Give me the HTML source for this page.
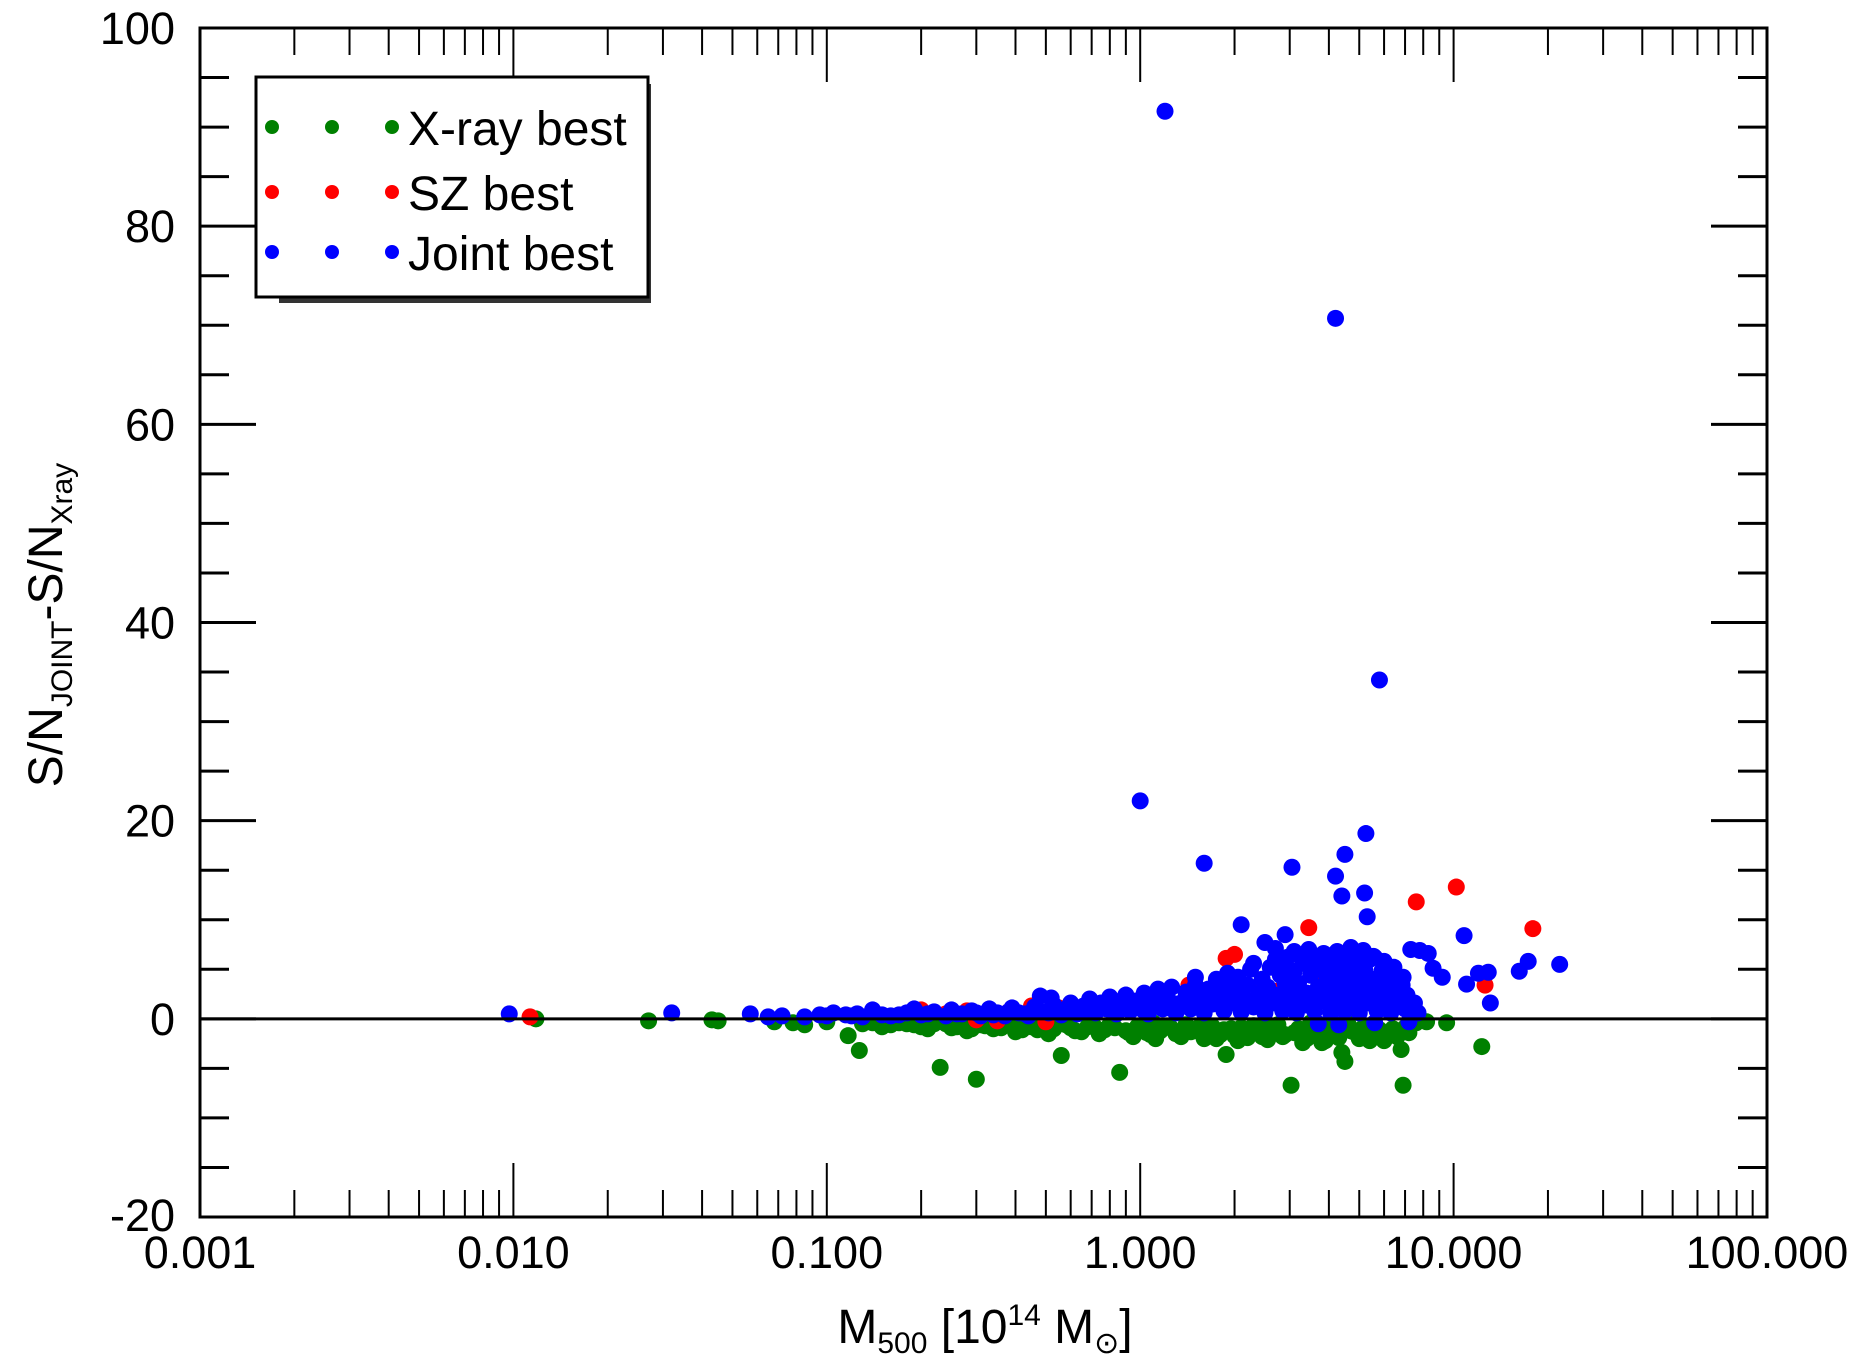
<!DOCTYPE html>
<html><head><meta charset="utf-8"><style>
html,body{margin:0;padding:0;background:#fff;}
svg{display:block;font-family:"Liberation Sans",Arial,sans-serif;}
</style></head><body>
<svg id="chart" width="1864" height="1362" viewBox="0 0 1864 1362" xmlns="http://www.w3.org/2000/svg">
<g id="ticks"></g>
<g id="pts"></g>
<line id="zero" stroke="#000" stroke-width="3"/>
<rect x="200" y="28" width="1567" height="1189" fill="none" stroke="#000" stroke-width="3"/>
<g id="labels" font-size="45" fill="#000"></g>
<text transform="translate(62,625) rotate(-90)" text-anchor="middle" font-size="48">S/N<tspan font-size="30" dy="10">JOINT</tspan><tspan dy="-10">-S/N</tspan><tspan font-size="30" dy="10">Xray</tspan></text>
<text x="985" y="1343" text-anchor="middle" font-size="48">M<tspan font-size="30" dy="10">500</tspan><tspan dy="-10"> [10</tspan><tspan font-size="30" dy="-18">14</tspan><tspan dy="18"> M</tspan><tspan font-size="30" dy="10">⊙</tspan><tspan dy="-10">]</tspan></text>
<g>
<rect x="279" y="84" width="372" height="219" fill="#333"/>
<rect x="256" y="77" width="392" height="220" fill="#fff" stroke="#000" stroke-width="3"/>
<g><circle cx="272" cy="127" r="7" fill="#008000"/><circle cx="332" cy="127" r="7" fill="#008000"/><circle cx="392" cy="127" r="7" fill="#008000"/><text x="408" y="145" font-size="48">X-ray best</text></g>
<g><circle cx="272" cy="192" r="7" fill="#ff0000"/><circle cx="332" cy="192" r="7" fill="#ff0000"/><circle cx="392" cy="192" r="7" fill="#ff0000"/><text x="408" y="210" font-size="48">SZ best</text></g>
<g><circle cx="272" cy="252" r="7" fill="#0000ff"/><circle cx="332" cy="252" r="7" fill="#0000ff"/><circle cx="392" cy="252" r="7" fill="#0000ff"/><text x="408" y="270" font-size="48">Joint best</text></g>
</g>
</svg>
<script>
const xTickLabels=["0.001","0.010","0.100","1.000","10.000","100.000"];
const yTickValues=[-20,0,20,40,60,80,100];
const greenM=[0.0118,0.027,0.043,0.045,0.068,0.078,0.085,0.1,0.117,0.127,0.13,0.15,0.17,0.19,0.21,0.23,0.24,0.26,0.28,0.30,0.31,0.34,0.37,0.40,0.43,0.47,0.51,0.56,0.58,0.62,0.68,0.74,0.8,0.86,0.9,0.95,1.0,1.05,1.12,1.2,1.3,1.4,1.5,1.6,1.7,1.8,1.88,1.95,2.05,2.15,2.3,2.45,2.6,2.75,2.9,3.03,3.2,3.4,3.6,3.8,4.0,4.2,4.4,4.5,4.7,5.0,5.3,5.6,6.0,6.4,6.8,6.9,7.2,7.6,8.2,9.5,12.3,1.1,2.5,3.5,4.6,0.7,
0.14,0.16,0.18,0.2,0.22,0.25,0.27,0.29,0.32,0.36,0.39,0.42,0.45,0.49,0.53,0.6,0.65,0.71,0.77,0.83,0.92,0.98,1.08,1.16,1.25,1.35,1.45,1.55,1.65,1.75,1.85,2.0,2.1,2.2,2.4,2.55,2.7,2.85,3.1,3.3,3.5,3.7,3.9,4.1,4.3,4.8,5.1,5.4,5.8,6.2,6.6,7.0];
const greenV=[0.0,-0.2,-0.1,-0.2,-0.3,-0.4,-0.6,-0.3,-1.7,-3.2,-0.5,-0.8,-0.4,-0.6,-1.0,-4.9,-0.5,-0.8,-1.2,-6.1,-0.6,-1.0,-0.5,-1.3,-0.7,-1.1,-1.5,-3.7,-0.6,-1.2,-0.8,-1.5,-0.6,-5.4,-1.2,-1.8,-0.7,-1.4,-2.0,-0.8,-1.5,-0.6,-1.2,-2.0,-0.8,-1.6,-3.6,-1.0,-2.2,-1.4,-0.7,-1.8,-1.1,-0.6,-1.6,-6.7,-1.0,-2.0,-1.2,-2.4,-0.8,-1.6,-3.4,-4.3,-1.2,-2.0,-0.8,-1.6,-2.2,-1.0,-3.1,-6.7,-1.4,-0.4,-0.3,-0.4,-2.8,-0.4,-0.5,-0.4,-0.5,-0.3,
-0.4,-0.6,-0.5,-0.8,-0.5,-0.9,-0.6,-1.0,-0.7,-0.9,-0.6,-1.1,-0.8,-0.6,-1.0,-0.9,-1.3,-0.7,-1.1,-0.9,-1.4,-0.8,-1.6,-1.2,-0.9,-1.8,-1.3,-0.8,-1.5,-2.0,-1.1,-1.7,-0.9,-1.9,-1.3,-2.1,-1.0,-1.8,-1.4,-2.4,-1.0,-1.7,-2.2,-1.2,-1.9,-1.3,-1.0,-2.2,-1.1,-1.5,-1.8,-0.9];
const redM=[0.0113,0.2,0.24,0.28,0.33,0.38,0.45,0.55,0.62,0.7,0.8,0.9,1.0,1.2,1.43,1.7,1.88,2.0,2.4,2.75,3.45,3.8,7.6,10.2,12.6,17.9,7.2,0.35,0.5,0.3];
const redV=[0.2,0.9,0.5,0.8,0.9,0.7,1.3,1.1,1.0,1.6,1.7,1.4,1.9,2.0,3.4,2.5,6.1,6.5,3.2,2.8,9.2,4.0,11.8,13.3,3.4,9.1,0.9,-0.2,-0.3,-0.1];
const blueM=[0.0097,0.032,0.057,0.065,0.072,0.085,0.095,0.10,0.105,0.115,0.125,0.13,0.14,0.15,0.16,0.18,0.19,0.20,0.22,0.24,0.25,0.27,0.29,0.31,0.33,0.35,0.37,0.39,0.41,0.44,0.46,0.48,0.50,0.52,0.53,0.56,0.58,0.60,0.63,0.66,0.69,0.72,0.75,0.78,0.80,0.84,0.87,0.90,0.93,0.97,1.0,1.03,1.06,1.1,1.14,1.18,1.22,1.26,1.3,1.35,1.4,1.45,1.5,1.55,1.6,1.65,1.7,1.75,1.8,1.85,1.9,1.95,2.0,2.05,2.1,2.15,2.2,2.25,2.3,2.4,2.45,2.5,2.55,2.6,2.65,2.7,2.8,2.85,2.9,2.95,3.0,3.05,3.1,3.15,3.2,3.3,3.35,3.4,3.5,3.55,3.6,3.7,3.75,3.8,3.9,3.95,4.0,4.05,4.1,4.2,4.25,4.3,4.4,4.45,4.5,4.6,4.65,4.7,4.8,4.9,4.95,5.0,5.1,5.2,5.3,5.4,5.5,5.6,5.7,5.8,5.9,6.0,6.1,6.2,6.3,6.4,6.6,6.7,6.9,7.0,7.1,7.2,7.3,7.5,7.7,3.7,4.3,5.6,
1.2,4.2,5.8,1.0,5.25,1.6,3.05,4.5,4.2,5.2,4.4,5.3,2.1,10.8,2.9,2.5,2.7,7.3,7.8,8.3,21.8,17.3,16.2,12.9,13.1,11.0,12.0,8.6,9.2,
0.12,0.17,0.21,0.26,0.3,0.34,0.38,0.43,0.47,0.51,0.55,0.62,0.68,0.74,0.82,0.88,0.95,1.02,1.08,1.16,1.24,1.32,1.42,1.52,1.62,1.72,1.82,1.92,2.02,2.12,2.22,2.35,2.48,2.58,2.75,2.88,3.0,3.12,3.25,3.38,3.52,3.65,3.85,4.0,4.15,4.35,4.55,4.75,4.85,5.05,5.25,5.45,5.65,5.85,6.05,6.25,6.5,6.8,7.05,
1.5,1.9,2.3,2.7,3.1,3.45,3.85,4.25,4.7,5.15,5.55,6.0,6.45,6.85,3.6,4.1,4.6,5.2,2.9,3.3,4.8,5.4];
const blueV=[0.5,0.6,0.5,0.2,0.3,0.2,0.4,0.3,0.6,0.4,0.5,0.2,0.9,0.4,0.3,0.6,1.0,0.4,0.7,0.3,0.9,0.5,0.8,0.3,1.0,0.6,0.3,1.1,0.6,0.3,1.2,2.3,0.7,2.1,1.4,0.4,1.0,1.6,0.5,1.3,2.0,0.6,1.6,1.0,2.2,0.5,1.4,2.4,0.8,1.8,1.2,2.6,0.5,1.8,3.0,1.0,2.2,3.2,0.6,1.6,2.7,1.0,3.4,2.0,0.6,3.0,1.5,4.0,2.4,0.8,3.5,1.6,2.8,4.2,0.7,2.0,3.4,5.0,1.2,2.6,4.0,0.6,3.2,5.2,1.6,2.4,4.4,0.8,3.6,6.2,1.8,2.8,4.8,0.6,3.6,5.6,1.4,2.6,4.4,6.4,0.8,3.2,5.2,1.8,2.6,4.2,6.0,0.6,3.4,5.2,1.6,2.6,4.4,6.2,0.8,3.4,5.4,1.8,2.6,4.2,6.0,0.6,3.2,5.0,1.6,2.4,4.0,6.2,0.8,3.0,4.8,1.6,2.6,4.0,0.6,3.2,1.8,2.6,4.2,1.0,2.4,-0.3,0.4,1.6,0.6,-0.5,-0.6,-0.4,
91.6,70.7,34.2,22.0,18.7,15.7,15.3,16.6,14.4,12.7,12.4,10.3,9.5,8.4,8.5,7.7,7.1,7.0,6.9,6.6,5.5,5.8,4.8,4.7,1.6,3.5,4.6,5.1,4.2,
0.3,0.4,0.5,0.5,0.6,0.4,0.7,0.5,0.8,0.6,0.9,0.7,0.9,1.0,0.8,1.1,1.2,0.9,1.3,1.4,1.1,1.5,1.3,1.7,1.2,1.9,1.4,2.1,1.6,2.3,1.8,1.5,2.0,1.7,2.2,1.9,1.6,2.4,2.0,1.8,2.5,2.2,1.9,2.6,2.1,2.4,2.0,2.8,2.3,1.9,2.7,2.2,2.0,2.5,1.8,2.3,1.7,1.4,1.0,
4.2,4.6,5.6,6.0,6.8,7.0,6.6,6.8,7.2,6.9,6.3,5.8,5.2,3.4,5.8,6.0,5.0,4.4,5.4,6.0,6.5,6.0];
const NS='http://www.w3.org/2000/svg';
const X0=200,X1=1767,Y0=1217,Y1=28;
function xs(m){return X0+(Math.log10(m)+3)/5*(X1-X0);}
function ys(v){return Y0-(v+20)/120*(Y0-Y1);}
const tg=document.getElementById('ticks');
function ln(x1,y1,x2,y2,w){const l=document.createElementNS(NS,'line');l.setAttribute('x1',x1);l.setAttribute('y1',y1);l.setAttribute('x2',x2);l.setAttribute('y2',y2);l.setAttribute('stroke','#000');l.setAttribute('stroke-width',w);


tg.appendChild(l);}
for(let d=0;d<5;d++){for(let k=1;k<=9;k++){const x=xs(Math.pow(10,d-3)*k);const L=(k===1)?54:27;if(k===1&&d===0)continue;ln(x,Y0,x,Y0-L,2);ln(x,Y1,x,Y1+L,2);}}
for(let v=-15;v<100;v+=5){const y=ys(v);const L=(v%20===0)?56:29;ln(X0,y,X0+L,y,3);ln(X1,y,X1-L,y,3);}
const lg=document.getElementById('labels');
xTickLabels.forEach((t,i)=>{const e=document.createElementNS(NS,'text');e.setAttribute('x',xs(Math.pow(10,i-3)));e.setAttribute('y',1268);e.setAttribute('text-anchor','middle');e.textContent=t;


lg.appendChild(e);});
yTickValues.forEach(v=>{const e=document.createElementNS(NS,'text');e.setAttribute('x',175);e.setAttribute('y',ys(v)+(v===-20?14:16));e.setAttribute('text-anchor','end');e.textContent=String(v);


lg.appendChild(e);});
const pg=document.getElementById('pts');
function series(M,V,col,name){M.forEach((m,i)=>{const c=document.createElementNS(NS,'circle');c.setAttribute('cx',xs(m));c.setAttribute('cy',ys(V[i]));c.setAttribute('r',8.5);c.setAttribute('fill',col);


pg.appendChild(c);});}
series(greenM,greenV,'#008000','xray-best-point');
series(redM,redV,'#ff0000','sz-best-point');
series(blueM,blueV,'#0000ff','joint-best-point');
const z=document.getElementById('zero');z.setAttribute('x1',X0);z.setAttribute('x2',X1);z.setAttribute('y1',ys(0));z.setAttribute('y2',ys(0));
</script>
</body></html>
